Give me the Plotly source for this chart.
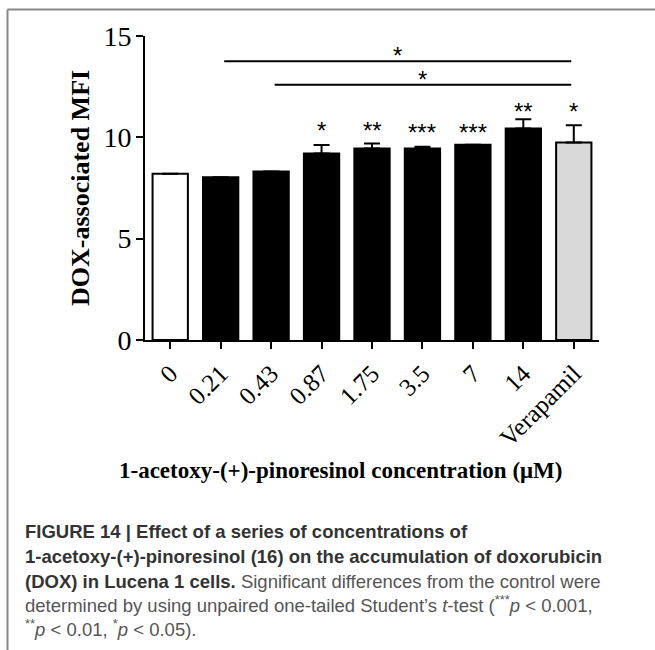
import plotly.graph_objects as go

# Concentrations of 1-acetoxy-(+)-pinoresinol (µM) plus the verapamil control
categories = ["0", "0.21", "0.43", "0.87", "1.75", "3.5", "7", "14", "Verapamil"]
mfi = [8.2, 8.03, 8.32, 9.2, 9.45, 9.45, 9.63, 10.43, 9.75]
sem = [0.0, 0.0, 0.0, 0.42, 0.24, 0.09, 0.0, 0.46, 0.85]
bar_stars = ["", "", "", "*", "**", "***", "***", "**", "*"]
star_level = [0, 0, 0, 10.36, 10.36, 10.26, 10.26, 11.28, 11.28]

# Bracket comparisons: (start index, end index, height, label)
brackets = [(1, 8, 13.76, "*"), (2, 8, 12.6, "*")]

fill_colors = ["white"] + ["black"] * 7 + ["#d9d9d9"]

caption_lines = [
    "<b>FIGURE 14 | Effect of a series of concentrations of</b>",
    "<b>1-acetoxy-(+)-pinoresinol (16) on the accumulation of doxorubicin</b>",
    "<b>(DOX) in Lucena 1 cells.</b> <span style='color:#555555'>Significant differences from the control were</span>",
    "<span style='color:#555555'>determined by using unpaired one-tailed Student’s <i>t</i>-test (<sup>***</sup><i>p</i> &lt; 0.001,</span>",
    "<span style='color:#555555'><sup>**</sup><i>p</i> &lt; 0.01, <sup>*</sup><i>p</i> &lt; 0.05).</span>",
]

FIG_W, FIG_H = 655, 650
L, R, T, B = 145, 599, 36, 340
PW, PH = R - L, B - T


def px(x):
    return (x - L) / PW


def py(y):
    return (B - y) / PH


serif = "Liberation Serif"
sans = "Liberation Sans"

fig = go.Figure()
fig.add_trace(go.Bar(
    x=list(range(len(categories))),
    y=mfi,
    width=0.7,
    marker=dict(color=fill_colors, line=dict(color="black", width=2)),
    error_y=dict(type="data", array=sem, arrayminus=[0] * len(sem),
                 symmetric=False, color="black", thickness=2, width=8),
    showlegend=False,
))

annotations = []
for i, (s, lvl) in enumerate(zip(bar_stars, star_level)):
    if s:
        annotations.append(dict(x=i, y=lvl, xref="x", yref="y", text=s,
                                showarrow=False, yanchor="middle",
                                font=dict(family=sans, size=24, color="black")))

shapes = []
for a, b, h, lab in brackets:
    shapes.append(dict(type="line", xref="x", yref="y", x0=a + 0.07, x1=b - 0.05,
                       y0=h, y1=h, line=dict(color="black", width=2)))
    annotations.append(dict(x=(a + 0.07 + b - 0.05) / 2, y=h + 0.27, xref="x", yref="y",
                            text=lab, showarrow=False, yanchor="middle",
                            font=dict(family=sans, size=24, color="black")))

# Axis titles
annotations.append(dict(x=px(80), y=py(188), xref="paper", yref="paper",
                        text="<b>DOX-associated MFI</b>", textangle=-90,
                        showarrow=False, xanchor="center", yanchor="middle",
                        font=dict(family=serif, size=26, color="black")))
annotations.append(dict(x=px(340), y=py(470), xref="paper", yref="paper",
                        text="<b>1-acetoxy-(+)-pinoresinol concentration (μM)</b>",
                        showarrow=False, xanchor="center", yanchor="middle",
                        font=dict(family=serif, size=23, color="black")))

# Caption
baselines = [539, 564, 589, 613, 637]
for line, yb in zip(caption_lines, baselines):
    annotations.append(dict(x=px(23), y=py(yb + 5), xref="paper", yref="paper",
                            text=line, showarrow=False, xanchor="left", yanchor="bottom",
                            align="left",
                            font=dict(family=sans, size=18.5, color="#333333")))

# Page frame
shapes.append(dict(type="line", xref="paper", yref="paper", x0=px(7.5), x1=px(655),
                   y0=py(9.5), y1=py(9.5), line=dict(color="#888888", width=2)))
shapes.append(dict(type="line", xref="paper", yref="paper", x0=px(7.5), x1=px(7.5),
                   y0=py(9.5), y1=py(650), line=dict(color="#888888", width=2)))

fig.update_layout(
    width=FIG_W, height=FIG_H,
    margin=dict(l=L, r=FIG_W - R, t=T, b=FIG_H - B, pad=0),
    paper_bgcolor="white", plot_bgcolor="white",
    annotations=annotations, shapes=shapes,
    bargap=0.3,
)
fig.update_xaxes(
    range=[-0.5, 8.5], tickmode="array", tickvals=list(range(len(categories))),
    ticktext=categories, tickangle=-45, showgrid=False, zeroline=False,
    showline=True, linecolor="black", linewidth=2,
    ticks="outside", ticklen=7, tickwidth=2, tickcolor="black",
    tickfont=dict(family=serif, size=25, color="black"),
)
fig.update_yaxes(
    range=[0, 15], tickvals=[0, 5, 10, 15], showgrid=False, zeroline=False,
    showline=True, linecolor="black", linewidth=2,
    ticks="outside", ticklen=7, tickwidth=2, tickcolor="black",
    ticklabelstandoff=-1,
    tickfont=dict(family=serif, size=28, color="black"),
)

fig.write_html("out.html")
